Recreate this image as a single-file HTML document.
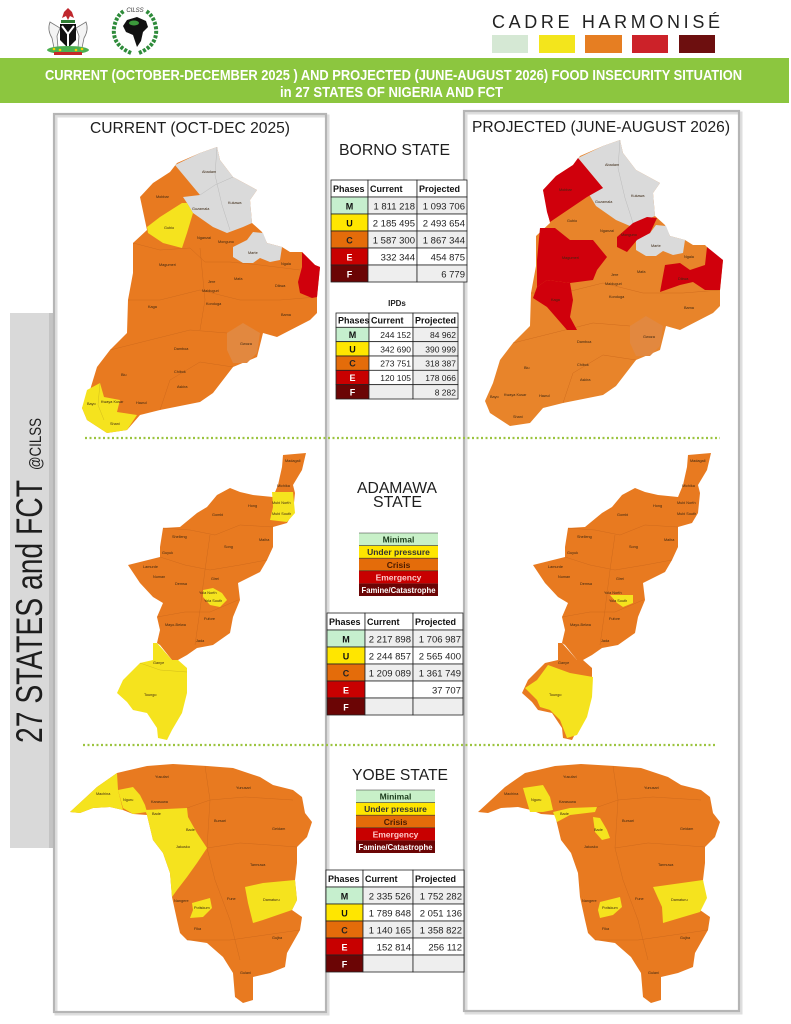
<!DOCTYPE html>
<html><head><meta charset="utf-8"><style>
html,body{margin:0;padding:0;background:#fff;}
svg{display:block;}
text{font-family:"Liberation Sans",Arial,sans-serif;}
.b{font-weight:bold;}
.lb{font-size:3.8px;fill:#3a2612;}
.hd{font-size:9px;font-weight:bold;fill:#111;}
.d{font-size:9.5px;fill:#222;text-anchor:end;}
.d2{font-size:8.5px;fill:#222;text-anchor:end;}
.ph{font-size:9px;font-weight:bold;text-anchor:middle;}
.lg{font-size:8.5px;font-weight:bold;text-anchor:middle;}
</style></head><body>
<svg width="791" height="1024" viewBox="0 0 791 1024" xmlns="http://www.w3.org/2000/svg">
<rect width="791" height="1024" fill="#fff"/>

<!-- Coat of arms -->
<g>
  <polygon points="62,18 64,12 68,8 72,12 74,18 70,16 68,20 66,16" fill="#c0272d"/>
  <rect x="61" y="20" width="14" height="3" fill="#2e7d32"/>
  <path d="M50,22 Q47,30 52,38 L54,48 L58,48 L57,36 L60,28 Z" fill="#f4f4f4" stroke="#777" stroke-width="0.8"/>
  <path d="M86,22 Q89,30 84,38 L82,48 L78,48 L79,36 L76,28 Z" fill="#f4f4f4" stroke="#777" stroke-width="0.8"/>
  <path d="M60,24 L76,24 L76,40 L68,48 L60,40 Z" fill="#111"/>
  <polyline points="62,26 68,34 74,26" fill="none" stroke="#fff" stroke-width="2"/>
  <line x1="68" y1="34" x2="68" y2="46" stroke="#fff" stroke-width="2"/>
  <ellipse cx="68" cy="50" rx="21" ry="4" fill="#4caf50"/>
  <circle cx="54" cy="49" r="1.3" fill="#f5d000"/><circle cx="60" cy="50" r="1.3" fill="#f5d000"/><circle cx="76" cy="50" r="1.3" fill="#f5d000"/><circle cx="82" cy="49" r="1.3" fill="#f5d000"/>
  <rect x="54" y="52" width="28" height="3" fill="#c62828"/>
</g>
<!-- CILSS logo -->
<g>
  <path d="M131,53 Q112,45 114,28 Q116,16 124,11" fill="none" stroke="#2e8b3a" stroke-width="4" stroke-dasharray="3,1.5"/>
  <path d="M139,53 Q158,45 156,28 Q154,16 146,11" fill="none" stroke="#2e8b3a" stroke-width="4" stroke-dasharray="3,1.5"/>
  <polygon points="127,20 137,17 146,21 148,27 143,32 141,41 137,47 135,41 133,35 126,32 123,26" fill="#111"/>
  <ellipse cx="134" cy="23" rx="5" ry="2.5" fill="#3c9a3c"/>
  <text x="135" y="12" font-size="6" font-style="italic" text-anchor="middle" fill="#333">CILSS</text>
</g>

<!-- CADRE HARMONISE -->
<text x="492" y="28" font-size="18" fill="#222" textLength="228" lengthAdjust="spacing">CADRE HARMONISÉ</text>
<rect x="492" y="35" width="36" height="18" fill="#d5e8d4"/>
<rect x="539" y="35" width="36" height="18" fill="#f3e51c"/>
<rect x="585" y="35" width="37" height="18" fill="#e67e22"/>
<rect x="632" y="35" width="36" height="18" fill="#cc2229"/>
<rect x="679" y="35" width="36" height="18" fill="#6d0f0f"/>

<!-- Banner -->
<rect x="0" y="58" width="789" height="45" fill="#8cc63f"/>
<text x="45" y="80" font-size="15" class="b" fill="#fff" textLength="697" lengthAdjust="spacingAndGlyphs">CURRENT (OCTOBER-DECEMBER 2025 ) AND PROJECTED (JUNE-AUGUST 2026) FOOD INSECURITY SITUATION</text>
<text x="280" y="97" font-size="15" class="b" fill="#fff" textLength="223" lengthAdjust="spacingAndGlyphs">in 27 STATES OF NIGERIA AND FCT</text>

<!-- Sidebar -->
<rect x="10" y="313" width="41" height="535" fill="#d9d9d9"/>
<rect x="49" y="313" width="4" height="535" fill="#c4c4c4"/>
<text transform="translate(42,743) rotate(-90)" font-size="37" fill="#1e1e1e" textLength="263" lengthAdjust="spacingAndGlyphs">27 STATES and FCT</text>
<text transform="translate(41,470) rotate(-90)" font-size="17" fill="#1e1e1e" textLength="52" lengthAdjust="spacingAndGlyphs">@CILSS</text>

<!-- Frames -->
<rect x="56" y="116" width="272" height="898" fill="none" stroke="#dedede" stroke-width="3"/>
<rect x="54" y="114" width="272" height="898" fill="none" stroke="#b5b5b5" stroke-width="2.2"/>
<rect x="466" y="113" width="275" height="900" fill="none" stroke="#dedede" stroke-width="3"/>
<rect x="464" y="111" width="275" height="900" fill="none" stroke="#b5b5b5" stroke-width="2.2"/>

<text x="90" y="133" font-size="15.5" fill="#1e1e1e" textLength="200" lengthAdjust="spacingAndGlyphs">CURRENT (OCT-DEC 2025)</text>
<text x="472" y="132" font-size="15.5" fill="#1e1e1e" textLength="258" lengthAdjust="spacingAndGlyphs">PROJECTED (JUNE-AUGUST 2026)</text>

<!-- Dotted separators -->
<line x1="85" y1="438" x2="720" y2="438" stroke="#9cc440" stroke-width="2.2" stroke-dasharray="2,2.5"/>
<line x1="83" y1="745" x2="717" y2="745" stroke="#9cc440" stroke-width="2.2" stroke-dasharray="2,2.5"/>

<!-- ============ BORNO CURRENT ============ -->
<g id="bornoC">
<polygon points="170,172 177,163 200,153 217,147 220,160 233,177 257,190 250,200 252,223 262,232 267,243 282,247 290,252 302,252 315,265 320,267 317,297 317,313 310,320 277,337 263,333 257,357 233,367 213,393 200,402 160,410 140,415 127,430 107,433 87,420 82,408 90,390 97,367 110,350 127,333 128,300 133,273 133,243 147,230 140,197 153,183" fill="#e87a20"/>
<polygon points="227,333 243,323 260,333 257,353 247,363 233,363 227,350" fill="#e2883f"/>
<polyline points="133,243 160,250 190,248 205,262 230,262 260,265 300,270" fill="none" stroke="#c9661a" stroke-width="0.4"/>
<polyline points="128,300 160,300 200,290 240,300 280,300 317,297" fill="none" stroke="#c9661a" stroke-width="0.4"/>
<polyline points="110,350 150,340 190,330 227,333" fill="none" stroke="#c9661a" stroke-width="0.4"/>
<polyline points="160,410 170,380 200,362 233,367" fill="none" stroke="#c9661a" stroke-width="0.4"/>
<polyline points="200,248 205,300 200,330" fill="none" stroke="#c9661a" stroke-width="0.4"/>
</g>
<polygon points="175,165 200,153 217,147 220,160 233,177 257,190 250,200 252,223 243,227 227,233 213,227 193,213 187,203 183,197 200,195" fill="#dadada"/>
<polyline points="200,195 215,185 233,177" fill="none" stroke="#bbb" stroke-width="0.5"/>
<polyline points="217,147 215,175 222,205 230,230" fill="none" stroke="#bbb" stroke-width="0.5"/>
<polygon points="147,227 160,217 182,203 187,203 193,213 187,233 182,248 163,243 148,233" fill="#f5e31e"/>
<polygon points="233,247 247,240 253,232 263,233 267,243 282,247 280,260 270,262 260,258 253,263 243,263 233,257" fill="#dadada"/>
<polygon points="302,252 315,265 320,267 317,297 312,298 300,293 298,282 302,267" fill="#d0000c"/>
<polygon points="87,390 100,383 104,397 120,400 117,412 137,415 127,430 107,433 87,420 82,408" fill="#f5e31e"/>
<polyline points="100,383 98,405 104,420" fill="none" stroke="#c9b21a" stroke-width="0.4"/>
<g class="lb">
<text x="202" y="173">Abadam</text><text x="228" y="204">Kukawa</text><text x="156" y="198">Mobbar</text><text x="192" y="210">Guzamala</text><text x="164" y="229">Gubio</text><text x="197" y="239">Nganzai</text><text x="218" y="243">Monguno</text><text x="248" y="254">Marte</text><text x="281" y="265">Ngala</text><text x="159" y="266">Magumeri</text><text x="208" y="283">Jere</text><text x="202" y="292">Maiduguri</text><text x="234" y="280">Mafa</text><text x="275" y="287">Dikwa</text><text x="206" y="305">Konduga</text><text x="148" y="308">Kaga</text><text x="281" y="316">Bama</text><text x="240" y="345">Gwoza</text><text x="174" y="350">Damboa</text><text x="174" y="373">Chibok</text><text x="121" y="376">Biu</text><text x="177" y="388">Askira</text><text x="136" y="404">Hawul</text><text x="87" y="405">Bayo</text><text x="101" y="403">Kwaya Kusar</text><text x="110" y="425">Shani</text>
</g>

<!-- ============ BORNO PROJECTED ============ -->
<g transform="translate(403,-7)">
<polygon points="170,172 177,163 200,153 217,147 220,160 233,177 257,190 250,200 252,223 262,232 267,243 282,247 290,252 302,252 315,265 320,267 317,297 317,313 310,320 277,337 263,333 257,357 233,367 213,393 200,402 160,410 140,415 127,430 107,433 87,420 82,408 90,390 97,367 110,350 127,333 128,300 133,273 133,243 147,230 140,197 153,183" fill="#e8842a"/>
<polygon points="227,333 243,323 260,333 257,353 247,363 233,363 227,350" fill="#e2883f"/>
<polyline points="110,350 150,340 190,330 227,333" fill="none" stroke="#c9661a" stroke-width="0.4"/>
<polyline points="160,410 170,380 200,362 233,367" fill="none" stroke="#c9661a" stroke-width="0.4"/>
<polyline points="128,300 160,300 200,290 240,300 280,300 317,297" fill="none" stroke="#c9661a" stroke-width="0.4"/>
<polygon points="175,165 200,153 217,147 220,160 233,177 257,190 250,200 252,223 243,227 227,233 213,227 193,213 187,203 183,197 200,195" fill="#dadada"/>
<polygon points="233,247 247,240 253,232 263,233 267,243 282,247 280,260 270,262 260,258 253,263 243,263 233,257" fill="#dadada"/>
<polyline points="217,147 215,175 222,205 230,230" fill="none" stroke="#bbb" stroke-width="0.5"/>
</g>
<polygon points="543,190 556,176 573,165 578,158 603,188 587,197 550,222 547,212" fill="#d0000c"/>
<polygon points="540,228 555,228 570,240 593,240 607,257 597,270 593,280 570,283 547,280 537,287 537,260" fill="#d0000c"/>
<polygon points="537,287 547,280 570,283 573,300 570,317 577,330 567,330 547,307 533,298" fill="#d0000c"/>
<polygon points="617,237 633,223 647,217 657,218 650,233 637,240 627,252 617,247" fill="#d0000c"/>
<polygon points="660,292 665,265 680,263 690,270 705,265 707,247 723,260 720,290 705,290 693,282 680,285" fill="#d0000c"/>
<g class="lb" transform="translate(403,-7)">
<text x="202" y="173">Abadam</text><text x="228" y="204">Kukawa</text><text x="156" y="198">Mobbar</text><text x="192" y="210">Guzamala</text><text x="164" y="229">Gubio</text><text x="197" y="239">Nganzai</text><text x="218" y="243">Monguno</text><text x="248" y="254">Marte</text><text x="281" y="265">Ngala</text><text x="159" y="266">Magumeri</text><text x="208" y="283">Jere</text><text x="202" y="292">Maiduguri</text><text x="234" y="280">Mafa</text><text x="275" y="287">Dikwa</text><text x="206" y="305">Konduga</text><text x="148" y="308">Kaga</text><text x="281" y="316">Bama</text><text x="240" y="345">Gwoza</text><text x="174" y="350">Damboa</text><text x="174" y="373">Chibok</text><text x="121" y="376">Biu</text><text x="177" y="388">Askira</text><text x="136" y="404">Hawul</text><text x="87" y="405">Bayo</text><text x="101" y="403">Kwaya Kusar</text><text x="110" y="425">Shani</text>
</g>

<!-- ============ ADAMAWA CURRENT ============ -->
<polygon points="283,455 306,453 302,470 293,485 295,493 293,513 287,523 273,527 273,547 267,560 260,572 238,583 240,600 233,617 230,633 213,645 197,648 187,655 178,660 172,660 160,645 157,643 160,630 157,617 163,603 153,597 140,583 128,565 140,562 160,557 160,547 163,528 180,527 197,513 207,507 217,495 230,488 240,492 253,495 273,497 278,485 282,467" fill="#e87a20"/>
<polyline points="163,528 190,530 215,535 240,525 273,527" fill="none" stroke="#c9661a" stroke-width="0.4"/>
<polyline points="160,557 185,565 210,570 240,565 267,560" fill="none" stroke="#c9661a" stroke-width="0.4"/>
<polyline points="157,617 185,612 210,612 238,600" fill="none" stroke="#c9661a" stroke-width="0.4"/>
<polyline points="210,535 205,570 200,610 195,645" fill="none" stroke="#c9661a" stroke-width="0.4"/>
<polygon points="272,492 293,492 295,513 287,522 270,520 273,507" fill="#f5e31e"/>
<polygon points="203,590 213,588 222,593 227,600 220,607 210,605 203,597" fill="#f5e31e"/>
<polygon points="153,643 157,643 172,660 178,660 187,668 187,693 182,713 172,730 167,740 158,738 157,728 147,713 133,710 127,702 117,693 123,680 140,663 153,660" fill="#f5e31e"/>
<polyline points="140,663 160,670 187,672" fill="none" stroke="#c9b21a" stroke-width="0.4"/>
<g class="lb">
<text x="285" y="462">Madagali</text><text x="277" y="487">Michika</text><text x="272" y="504">Mubi North</text><text x="272" y="515">Mubi South</text><text x="248" y="507">Hong</text><text x="212" y="516">Gombi</text><text x="259" y="541">Maiha</text><text x="172" y="538">Shelleng</text><text x="224" y="548">Song</text><text x="162" y="554">Guyuk</text><text x="143" y="568">Lamurde</text><text x="153" y="578">Numan</text><text x="175" y="585">Demsa</text><text x="211" y="580">Girei</text><text x="199" y="594">Yola North</text><text x="204" y="602">Yola South</text><text x="204" y="620">Fufore</text><text x="165" y="626">Mayo-Belwa</text><text x="196" y="642">Jada</text><text x="153" y="664">Ganye</text><text x="144" y="696">Toungo</text>
</g>

<!-- ============ ADAMAWA PROJECTED ============ -->
<g transform="translate(405,0)">
<polygon points="283,455 306,453 302,470 293,485 295,493 293,513 287,523 273,527 273,547 267,560 260,572 238,583 240,600 233,617 230,633 213,645 197,648 187,655 178,660 172,660 160,645 157,643 160,630 157,617 163,603 153,597 140,583 128,565 140,562 160,557 160,547 163,528 180,527 197,513 207,507 217,495 230,488 240,492 253,495 273,497 278,485 282,467" fill="#e87a20"/>
<polygon points="153,643 157,643 172,660 178,660 187,668 187,693 182,713 172,730 167,740 158,738 157,728 147,713 133,710 127,702 117,693 123,680 140,663 153,660" fill="#e87a20"/>
<polyline points="163,528 190,530 215,535 240,525 273,527" fill="none" stroke="#c9661a" stroke-width="0.4"/>
<polyline points="160,557 185,565 210,570 240,565 267,560" fill="none" stroke="#c9661a" stroke-width="0.4"/>
<polyline points="157,617 185,612 210,612 238,600" fill="none" stroke="#c9661a" stroke-width="0.4"/>
<polyline points="210,535 205,570 200,610 195,645" fill="none" stroke="#c9661a" stroke-width="0.4"/>
</g>
<polygon points="548,665 570,673 593,677 592,697 587,717 577,735 567,738 560,720 550,710 540,707 537,700 525,688 537,680" fill="#f5e31e"/>
<polygon points="610,595 633,595 633,603 623,607 617,603" fill="#f5e31e"/>
<g class="lb" transform="translate(405,0)">
<text x="285" y="462">Madagali</text><text x="277" y="487">Michika</text><text x="272" y="504">Mubi North</text><text x="272" y="515">Mubi South</text><text x="248" y="507">Hong</text><text x="212" y="516">Gombi</text><text x="259" y="541">Maiha</text><text x="172" y="538">Shelleng</text><text x="224" y="548">Song</text><text x="162" y="554">Guyuk</text><text x="143" y="568">Lamurde</text><text x="153" y="578">Numan</text><text x="175" y="585">Demsa</text><text x="211" y="580">Girei</text><text x="199" y="594">Yola North</text><text x="204" y="602">Yola South</text><text x="204" y="620">Fufore</text><text x="165" y="626">Mayo-Belwa</text><text x="196" y="642">Jada</text><text x="153" y="664">Ganye</text><text x="144" y="696">Toungo</text>
</g>

<!-- ============ YOBE CURRENT ============ -->
<polygon points="70,812 83,800 97,787 117,773 147,766 173,764 207,766 233,768 260,777 273,785 293,790 302,797 305,813 312,822 307,837 297,847 297,863 295,880 297,900 292,910 302,917 300,930 287,953 285,967 270,973 253,977 253,1000 243,1003 235,997 233,973 223,957 207,943 187,940 180,933 177,920 172,897 170,873 163,853 153,840 147,815 133,814 123,810 110,807 93,808 80,813" fill="#e87a20"/>
<polyline points="187,808 210,800 245,797 293,800" fill="none" stroke="#c9661a" stroke-width="0.4"/>
<polyline points="207,848 240,843 270,845 297,847" fill="none" stroke="#c9661a" stroke-width="0.4"/>
<polyline points="205,766 210,800 207,848 215,880 230,920 240,960" fill="none" stroke="#c9661a" stroke-width="0.4"/>
<polyline points="187,940 230,940 265,935 300,930" fill="none" stroke="#c9661a" stroke-width="0.4"/>
<polygon points="70,812 83,800 97,787 117,773 118,790 123,810 110,807 93,808 80,813" fill="#f5e31e"/>
<polygon points="118,790 133,787 140,795 145,805 147,812 133,814 123,808" fill="#f5e31e"/>
<polygon points="145,810 187,808 188,817 197,833 207,848 197,863 187,877 177,890 172,897 170,873 163,853 153,840 147,815" fill="#f5e31e"/>
<polygon points="192,903 210,898 212,908 203,917 190,918 193,910" fill="#f5e31e"/>
<polygon points="245,887 263,883 295,880 297,900 292,910 263,920 253,923 248,903" fill="#f5e31e"/>
<g class="lb">
<text x="155" y="778">Yusufari</text><text x="236" y="789">Yunusari</text><text x="96" y="795">Machina</text><text x="123" y="801">Nguru</text><text x="151" y="803">Karasuwa</text><text x="152" y="815">Bade</text><text x="214" y="822">Bursari</text><text x="272" y="830">Geidam</text><text x="186" y="831">Bade</text><text x="176" y="848">Jakusko</text><text x="250" y="866">Tarmuwa</text><text x="174" y="902">Nangere</text><text x="227" y="900">Fune</text><text x="263" y="901">Damaturu</text><text x="194" y="909">Potiskum</text><text x="194" y="930">Fika</text><text x="272" y="939">Gujba</text><text x="240" y="974">Gulani</text>
</g>

<!-- ============ YOBE PROJECTED ============ -->
<g transform="translate(408,0)">
<polygon points="70,812 83,800 97,787 117,773 147,766 173,764 207,766 233,768 260,777 273,785 293,790 302,797 305,813 312,822 307,837 297,847 297,863 295,880 297,900 292,910 302,917 300,930 287,953 285,967 270,973 253,977 253,1000 243,1003 235,997 233,973 223,957 207,943 187,940 180,933 177,920 172,897 170,873 163,853 153,840 147,815 133,814 123,810 110,807 93,808 80,813" fill="#e87a20"/>
<polyline points="187,808 210,800 245,797 293,800" fill="none" stroke="#c9661a" stroke-width="0.4"/>
<polyline points="207,848 240,843 270,845 297,847" fill="none" stroke="#c9661a" stroke-width="0.4"/>
<polyline points="205,766 210,800 207,848 215,880 230,920 240,960" fill="none" stroke="#c9661a" stroke-width="0.4"/>
<polyline points="187,940 230,940 265,935 300,930" fill="none" stroke="#c9661a" stroke-width="0.4"/>
</g>
<polygon points="523,788 543,785 550,797 553,810 543,812 530,812 527,802" fill="#f5e31e"/>
<polygon points="553,812 570,808 597,807 595,812 570,815 557,822" fill="#f5e31e"/>
<polygon points="593,817 600,818 607,830 610,838 602,840 595,832" fill="#f5e31e"/>
<polygon points="600,902 620,897 622,907 613,915 600,918 598,910" fill="#f5e31e"/>
<polygon points="653,887 703,880 707,898 700,912 663,923 662,907" fill="#f5e31e"/>
<g class="lb" transform="translate(408,0)">
<text x="155" y="778">Yusufari</text><text x="236" y="789">Yunusari</text><text x="96" y="795">Machina</text><text x="123" y="801">Nguru</text><text x="151" y="803">Karasuwa</text><text x="152" y="815">Bade</text><text x="214" y="822">Bursari</text><text x="272" y="830">Geidam</text><text x="186" y="831">Bade</text><text x="176" y="848">Jakusko</text><text x="250" y="866">Tarmuwa</text><text x="174" y="902">Nangere</text><text x="227" y="900">Fune</text><text x="263" y="901">Damaturu</text><text x="194" y="909">Potiskum</text><text x="194" y="930">Fika</text><text x="272" y="939">Gujba</text><text x="240" y="974">Gulani</text>
</g>

<!-- ============ CENTER: BORNO ============ -->
<text x="339" y="155" font-size="15.5" fill="#1e1e1e" textLength="111" lengthAdjust="spacingAndGlyphs">BORNO STATE</text>
<g stroke="#222" stroke-width="0.8">
<rect x="331" y="180" width="37" height="17" fill="#fff"/><rect x="368" y="180" width="49" height="17" fill="#fff"/><rect x="417" y="180" width="50" height="17" fill="#fff"/>
<rect x="331" y="197" width="37" height="17" fill="#c6efce"/><rect x="368" y="197" width="49" height="17" fill="#eeeeee"/><rect x="417" y="197" width="50" height="17" fill="#eeeeee"/>
<rect x="331" y="214" width="37" height="17" fill="#ffe600"/><rect x="368" y="214" width="49" height="17" fill="#fff"/><rect x="417" y="214" width="50" height="17" fill="#fff"/>
<rect x="331" y="231" width="37" height="17" fill="#e46c0a"/><rect x="368" y="231" width="49" height="17" fill="#eeeeee"/><rect x="417" y="231" width="50" height="17" fill="#eeeeee"/>
<rect x="331" y="248" width="37" height="17" fill="#c80000"/><rect x="368" y="248" width="49" height="17" fill="#fff"/><rect x="417" y="248" width="50" height="17" fill="#fff"/>
<rect x="331" y="265" width="37" height="17" fill="#6b0505"/><rect x="368" y="265" width="49" height="17" fill="#eeeeee"/><rect x="417" y="265" width="50" height="17" fill="#eeeeee"/>
</g>
<text class="hd" x="333" y="192">Phases</text><text class="hd" x="370" y="192">Current</text><text class="hd" x="419" y="192">Projected</text>
<text class="ph" x="349.5" y="209.5" fill="#111">M</text><text class="d" x="415" y="209.5">1 811 218</text><text class="d" x="465" y="209.5">1 093 706</text>
<text class="ph" x="349.5" y="226.5" fill="#111">U</text><text class="d" x="415" y="226.5">2 185 495</text><text class="d" x="465" y="226.5">2 493 654</text>
<text class="ph" x="349.5" y="243.5" fill="#222">C</text><text class="d" x="415" y="243.5">1 587 300</text><text class="d" x="465" y="243.5">1 867 344</text>
<text class="ph" x="349.5" y="260.5" fill="#fff">E</text><text class="d" x="415" y="260.5">332 344</text><text class="d" x="465" y="260.5">454 875</text>
<text class="ph" x="349.5" y="277.5" fill="#fff">F</text><text class="d" x="465" y="277.5">6 779</text>

<text x="397" y="306" font-size="8" class="b" text-anchor="middle" fill="#222">IPDs</text>
<g stroke="#222" stroke-width="0.8">
<rect x="336" y="313" width="33" height="14.33" fill="#fff"/><rect x="369" y="313" width="44" height="14.33" fill="#fff"/><rect x="413" y="313" width="45" height="14.33" fill="#fff"/>
<rect x="336" y="327.33" width="33" height="14.33" fill="#c6efce"/><rect x="369" y="327.33" width="44" height="14.33" fill="#fff"/><rect x="413" y="327.33" width="45" height="14.33" fill="#eeeeee"/>
<rect x="336" y="341.67" width="33" height="14.33" fill="#ffe600"/><rect x="369" y="341.67" width="44" height="14.33" fill="#fff"/><rect x="413" y="341.67" width="45" height="14.33" fill="#eeeeee"/>
<rect x="336" y="356" width="33" height="14.33" fill="#e46c0a"/><rect x="369" y="356" width="44" height="14.33" fill="#fff"/><rect x="413" y="356" width="45" height="14.33" fill="#eeeeee"/>
<rect x="336" y="370.33" width="33" height="14.33" fill="#c80000"/><rect x="369" y="370.33" width="44" height="14.33" fill="#fff"/><rect x="413" y="370.33" width="45" height="14.33" fill="#eeeeee"/>
<rect x="336" y="384.67" width="33" height="14.33" fill="#6b0505"/><rect x="369" y="384.67" width="44" height="14.33" fill="#eeeeee"/><rect x="413" y="384.67" width="45" height="14.33" fill="#eeeeee"/>
</g>
<text class="hd" x="338" y="323.5" font-size="8.5">Phases</text><text class="hd" x="371" y="323.5" font-size="8.5">Current</text><text class="hd" x="415" y="323.5" font-size="8.5">Projected</text>
<text class="ph" x="352.5" y="338" font-size="8.5" fill="#111">M</text><text class="d2" x="411" y="338">244 152</text><text class="d2" x="456" y="338">84 962</text>
<text class="ph" x="352.5" y="352.3" font-size="8.5" fill="#111">U</text><text class="d2" x="411" y="352.3">342 690</text><text class="d2" x="456" y="352.3">390 999</text>
<text class="ph" x="352.5" y="366.7" font-size="8.5" fill="#222">C</text><text class="d2" x="411" y="366.7">273 751</text><text class="d2" x="456" y="366.7">318 387</text>
<text class="ph" x="352.5" y="381" font-size="8.5" fill="#fff">E</text><text class="d2" x="411" y="381">120 105</text><text class="d2" x="456" y="381">178 066</text>
<text class="ph" x="352.5" y="395.3" font-size="8.5" fill="#fff">F</text><text class="d2" x="456" y="395.3">8 282</text>

<!-- ============ CENTER: ADAMAWA ============ -->
<text x="357" y="493" font-size="15.5" fill="#1e1e1e" textLength="80" lengthAdjust="spacingAndGlyphs">ADAMAWA</text>
<text x="373" y="507" font-size="15.5" fill="#1e1e1e" textLength="49" lengthAdjust="spacingAndGlyphs">STATE</text>
<g>
<rect x="359" y="533" width="79" height="12.6" fill="#c8f0c8"/>
<rect x="359" y="545.6" width="79" height="12.6" fill="#ffe600"/>
<rect x="359" y="558.2" width="79" height="12.6" fill="#e46c0a"/>
<rect x="359" y="570.8" width="79" height="12.6" fill="#c80000"/>
<rect x="359" y="583.4" width="79" height="12.6" fill="#6b0505"/>
<g stroke="#333" stroke-width="0.6"><line x1="359" y1="533" x2="438" y2="533"/><line x1="359" y1="545.6" x2="438" y2="545.6"/><line x1="359" y1="558.2" x2="438" y2="558.2"/><line x1="359" y1="570.8" x2="438" y2="570.8"/></g>
<text class="lg" x="398.5" y="542.6" fill="#1a3a1a">Minimal</text>
<text class="lg" x="398.5" y="555.2" fill="#333">Under pressure</text>
<text class="lg" x="398.5" y="567.8" fill="#4a1a00">Crisis</text>
<text class="lg" x="398.5" y="580.4" fill="#ffc8c8">Emergency</text>
<text class="lg" x="398.5" y="593" fill="#fff" font-size="8" textLength="74" lengthAdjust="spacingAndGlyphs">Famine/Catastrophe</text>
</g>
<g stroke="#222" stroke-width="0.8">
<rect x="327" y="613" width="38" height="17" fill="#fff"/><rect x="365" y="613" width="48" height="17" fill="#fff"/><rect x="413" y="613" width="50" height="17" fill="#fff"/>
<rect x="327" y="630" width="38" height="17" fill="#c6efce"/><rect x="365" y="630" width="48" height="17" fill="#eeeeee"/><rect x="413" y="630" width="50" height="17" fill="#eeeeee"/>
<rect x="327" y="647" width="38" height="17" fill="#ffe600"/><rect x="365" y="647" width="48" height="17" fill="#fff"/><rect x="413" y="647" width="50" height="17" fill="#fff"/>
<rect x="327" y="664" width="38" height="17" fill="#e46c0a"/><rect x="365" y="664" width="48" height="17" fill="#eeeeee"/><rect x="413" y="664" width="50" height="17" fill="#eeeeee"/>
<rect x="327" y="681" width="38" height="17" fill="#c80000"/><rect x="365" y="681" width="48" height="17" fill="#fff"/><rect x="413" y="681" width="50" height="17" fill="#fff"/>
<rect x="327" y="698" width="38" height="17" fill="#6b0505"/><rect x="365" y="698" width="48" height="17" fill="#eeeeee"/><rect x="413" y="698" width="50" height="17" fill="#eeeeee"/>
</g>
<text class="hd" x="329" y="625">Phases</text><text class="hd" x="367" y="625">Current</text><text class="hd" x="415" y="625">Projected</text>
<text class="ph" x="346" y="642.5" fill="#111">M</text><text class="d" x="411" y="642.5">2 217 898</text><text class="d" x="461" y="642.5">1 706 987</text>
<text class="ph" x="346" y="659.5" fill="#111">U</text><text class="d" x="411" y="659.5">2 244 857</text><text class="d" x="461" y="659.5">2 565 400</text>
<text class="ph" x="346" y="676.5" fill="#222">C</text><text class="d" x="411" y="676.5">1 209 089</text><text class="d" x="461" y="676.5">1 361 749</text>
<text class="ph" x="346" y="693.5" fill="#fff">E</text><text class="d" x="461" y="693.5">37 707</text>
<text class="ph" x="346" y="710.5" fill="#fff">F</text>

<!-- ============ CENTER: YOBE ============ -->
<text x="352" y="780" font-size="15.5" fill="#1e1e1e" textLength="96" lengthAdjust="spacingAndGlyphs">YOBE STATE</text>
<g>
<rect x="356" y="790" width="79" height="12.6" fill="#c8f0c8"/>
<rect x="356" y="802.6" width="79" height="12.6" fill="#ffe600"/>
<rect x="356" y="815.2" width="79" height="12.6" fill="#e46c0a"/>
<rect x="356" y="827.8" width="79" height="12.6" fill="#c80000"/>
<rect x="356" y="840.4" width="79" height="12.6" fill="#6b0505"/>
<g stroke="#333" stroke-width="0.6"><line x1="356" y1="790" x2="435" y2="790"/><line x1="356" y1="802.6" x2="435" y2="802.6"/><line x1="356" y1="815.2" x2="435" y2="815.2"/><line x1="356" y1="827.8" x2="435" y2="827.8"/></g>
<text class="lg" x="395.5" y="799.6" fill="#1a3a1a">Minimal</text>
<text class="lg" x="395.5" y="812.2" fill="#333">Under pressure</text>
<text class="lg" x="395.5" y="824.8" fill="#4a1a00">Crisis</text>
<text class="lg" x="395.5" y="837.4" fill="#ffc8c8">Emergency</text>
<text class="lg" x="395.5" y="850" fill="#fff" font-size="8" textLength="74" lengthAdjust="spacingAndGlyphs">Famine/Catastrophe</text>
</g>
<g stroke="#222" stroke-width="0.8">
<rect x="326" y="870" width="37" height="17" fill="#fff"/><rect x="363" y="870" width="50" height="17" fill="#fff"/><rect x="413" y="870" width="51" height="17" fill="#fff"/>
<rect x="326" y="887" width="37" height="17" fill="#c6efce"/><rect x="363" y="887" width="50" height="17" fill="#eeeeee"/><rect x="413" y="887" width="51" height="17" fill="#eeeeee"/>
<rect x="326" y="904" width="37" height="17" fill="#ffe600"/><rect x="363" y="904" width="50" height="17" fill="#fff"/><rect x="413" y="904" width="51" height="17" fill="#fff"/>
<rect x="326" y="921" width="37" height="17" fill="#e46c0a"/><rect x="363" y="921" width="50" height="17" fill="#eeeeee"/><rect x="413" y="921" width="51" height="17" fill="#eeeeee"/>
<rect x="326" y="938" width="37" height="17" fill="#c80000"/><rect x="363" y="938" width="50" height="17" fill="#fff"/><rect x="413" y="938" width="51" height="17" fill="#fff"/>
<rect x="326" y="955" width="37" height="17" fill="#6b0505"/><rect x="363" y="955" width="50" height="17" fill="#eeeeee"/><rect x="413" y="955" width="51" height="17" fill="#eeeeee"/>
</g>
<text class="hd" x="328" y="882">Phases</text><text class="hd" x="365" y="882">Current</text><text class="hd" x="415" y="882">Projected</text>
<text class="ph" x="344.5" y="899.5" fill="#111">M</text><text class="d" x="411" y="899.5">2 335 526</text><text class="d" x="462" y="899.5">1 752 282</text>
<text class="ph" x="344.5" y="916.5" fill="#111">U</text><text class="d" x="411" y="916.5">1 789 848</text><text class="d" x="462" y="916.5">2 051 136</text>
<text class="ph" x="344.5" y="933.5" fill="#222">C</text><text class="d" x="411" y="933.5">1 140 165</text><text class="d" x="462" y="933.5">1 358 822</text>
<text class="ph" x="344.5" y="950.5" fill="#fff">E</text><text class="d" x="411" y="950.5">152 814</text><text class="d" x="462" y="950.5">256 112</text>
<text class="ph" x="344.5" y="967.5" fill="#fff">F</text>
</svg>
</body></html>
